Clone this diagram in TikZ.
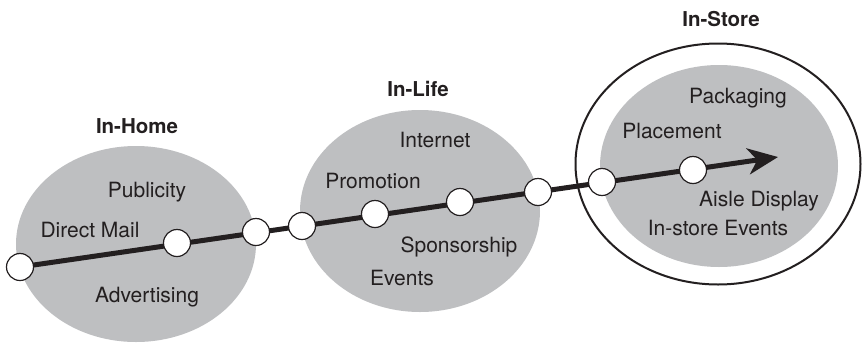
\documentclass[tikz,border=0pt]{standalone}
\usepackage{fontspec}
\setmainfont{TeX Gyre Heros}
\usetikzlibrary{shapes.geometric,arrows.meta}
\definecolor{stagegray}{RGB}{190,191,193}
\definecolor{inkcol}{RGB}{35,31,32}
\pgfdeclarelayer{bg}
\pgfdeclarelayer{mid}
\pgfsetlayers{bg,mid,main}
\begin{document}
\begin{tikzpicture}[x=1pt,y=-1pt,
  stage/.style={ellipse,fill=stagegray,inner sep=0pt},
  dot/.style={circle,draw=inkcol,fill=white,line width=1.2pt,minimum size=27pt,inner sep=0pt},
  lbl/.style={anchor=base,text=inkcol,font=\fontsize{21}{25}\selectfont,inner sep=0pt},
  head/.style={anchor=base,text=inkcol,font=\fontsize{20.5}{25}\selectfont\bfseries,inner sep=0pt}]
\useasboundingbox (0,0) rectangle (863,346);
\begin{pgfonlayer}{bg}
  \node[ellipse,draw=inkcol,fill=white,line width=2pt,minimum width=285pt,minimum height=241pt,inner sep=0pt] (storering) at (718,164) {};
  \node[stage,minimum width=240pt,minimum height=196pt] (home) at (136,244) {};
  \node[stage,minimum width=240pt,minimum height=202pt] (life) at (420,211) {};
  \node[stage,minimum width=238pt,minimum height=202pt] (store) at (719,166) {};
\end{pgfonlayer}
% stage titles
\node[head] (thome) at (137,133) {In-Home};
\node[head] (tlife) at (418,96) {In-Life};
\node[head] (tstore) at (721,26) {In-Store};
% In-Home items
\node[lbl] (publicity) at (147,197) {Publicity};
\node[lbl] (directmail) at (90,237) {Direct Mail};
\node[lbl] (advertising) at (147,302) {Advertising};
% In-Life items
\node[lbl] (internet) at (435,147) {Internet};
\node[lbl] (promotion) at (373,188) {Promotion};
\node[lbl] (sponsorship) at (459,252) {Sponsorship};
\node[lbl] (events) at (402,285) {Events};
% In-Store items
\node[lbl] (packaging) at (738,103) {Packaging};
\node[lbl] (placement) at (672,138) {Placement};
\node[lbl] (aisle) at (759,206) {Aisle Display};
\node[lbl] (instore) at (718,235) {In-store Events};
% path dots
\node[dot] (c1) at (20,267) {};
\node[dot] (c2) at (177,243) {};
\node[dot] (c3) at (256,232) {};
\node[dot] (c4) at (302,226) {};
\node[dot] (c5) at (375,214) {};
\node[dot] (c6) at (460,202) {};
\node[dot] (c7) at (538,192) {};
\node[dot] (c8) at (602,182) {};
\node[dot] (c9) at (693,170) {};
\coordinate (tip) at (778,157);
\begin{pgfonlayer}{mid}
  \draw[inkcol,line width=5pt,-{Stealth[length=30pt,width=26pt,inset=9pt]}] (c1.center) -- (tip);
\end{pgfonlayer}
\end{tikzpicture}
\end{document}
